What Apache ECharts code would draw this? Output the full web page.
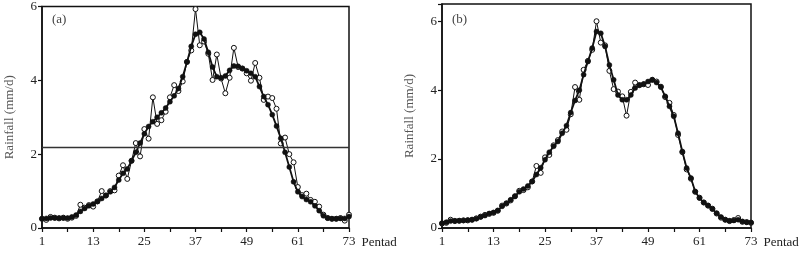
<!DOCTYPE html>
<html>
<head>
<meta charset="utf-8">
<script src="https://cdn.jsdelivr.net/npm/echarts@6/dist/echarts.min.js"></script>
<style>
  html, body { margin: 0; padding: 0; background: #fff; }
  #chart { width: 802px; height: 258px; }
</style>
</head>
<body>
<div id="chart"></div>
<script>
// pentad 1..73
var pentads = [];
for (var i = 1; i <= 73; i++) pentads.push(i);

var xTicks = [1, 13, 25, 37, 49, 61, 73];
var yTicksA = [0, 2, 4, 6];
var yTicksB = [0, 2, 4, 6];
var thresholdA = 2.18;

// (a) raw pentad values (open circles)
var rawA = [
  0.25, 0.22, 0.30, 0.28, 0.26, 0.28, 0.25, 0.28, 0.33, 0.63,
  0.55, 0.62, 0.58, 0.72, 1.00, 0.88, 1.00, 1.02, 1.42, 1.70,
  1.33, 1.82, 2.30, 1.94, 2.68, 2.42, 3.54, 2.82, 2.92, 3.15,
  3.54, 3.87, 3.71, 3.97, 4.50, 4.81, 5.93, 4.95, 5.05, 4.72,
  4.01, 4.70, 4.05, 3.65, 4.07, 4.88, 4.36, 4.32, 4.19, 3.99,
  4.47, 4.07, 3.47, 3.56, 3.52, 3.23, 2.29, 2.45, 2.00, 1.78,
  1.11, 0.89, 0.93, 0.76, 0.71, 0.58, 0.36, 0.27, 0.25, 0.25,
  0.27, 0.20, 0.36
];
// (a) smoothed values (filled circles)
var smoothA = [
  0.25, 0.26, 0.27, 0.27, 0.27, 0.27, 0.27, 0.30, 0.35, 0.45,
  0.53, 0.60, 0.65, 0.72, 0.80, 0.88, 0.98, 1.10, 1.30, 1.48,
  1.60, 1.82, 2.05, 2.30, 2.55, 2.75, 2.88, 3.00, 3.12, 3.25,
  3.42, 3.58, 3.78, 4.10, 4.50, 4.92, 5.25, 5.30, 5.12, 4.76,
  4.36, 4.10, 4.07, 4.12, 4.27, 4.39, 4.38, 4.32, 4.26, 4.19,
  4.10, 3.83, 3.56, 3.34, 3.07, 2.76, 2.43, 2.05, 1.65, 1.25,
  0.98, 0.85, 0.77, 0.71, 0.60, 0.47, 0.33, 0.27, 0.25, 0.25,
  0.26, 0.26, 0.31
];
// (b) raw pentad values (open circles)
var rawB = [
  0.13, 0.15, 0.24, 0.20, 0.21, 0.22, 0.22, 0.24, 0.28, 0.33,
  0.38, 0.41, 0.44, 0.50, 0.65, 0.71, 0.80, 0.92, 1.08, 1.10,
  1.18, 1.35, 1.80, 1.60, 2.05, 2.12, 2.40, 2.55, 2.80, 2.85,
  3.30, 4.09, 3.72, 4.59, 4.85, 5.17, 6.00, 5.38, 5.30, 4.56,
  4.03, 3.96, 3.82, 3.26, 3.95, 4.22, 4.15, 4.17, 4.15, 4.30,
  4.25, 4.10, 3.80, 3.63, 3.28, 2.70, 2.20, 1.70, 1.43, 1.05,
  0.88, 0.74, 0.65, 0.56, 0.42, 0.30, 0.24, 0.20, 0.23, 0.29,
  0.18, 0.17, 0.15
];
// (b) smoothed values (filled circles)
var smoothB = [
  0.14, 0.17, 0.20, 0.21, 0.21, 0.22, 0.23, 0.24, 0.27, 0.32,
  0.36, 0.42, 0.45, 0.51, 0.63, 0.72, 0.82, 0.92, 1.05, 1.13,
  1.22, 1.35, 1.55, 1.75, 1.98, 2.20, 2.37, 2.51, 2.75, 2.97,
  3.35, 3.70, 4.00, 4.45, 4.83, 5.22, 5.70, 5.65, 5.27, 4.73,
  4.30, 3.86, 3.72, 3.72, 3.86, 4.06, 4.14, 4.18, 4.25, 4.30,
  4.22, 4.09, 3.82, 3.53, 3.24, 2.75, 2.22, 1.74, 1.45, 1.06,
  0.87, 0.74, 0.65, 0.55, 0.43, 0.32, 0.24, 0.21, 0.22, 0.24,
  0.19, 0.17, 0.16
];

var font = 'Liberation Serif';
var ink = '#222';

// x positions are pentad-1 so ticks every 6 start at 0
function pairs(vals) {
  return vals.map(function (v, i) { return [pentads[i] - 1, v]; });
}

function xAxisFor(gi) {
  return {
    type: 'value', gridIndex: gi, min: 0, max: 72, interval: 6,
    name: 'Pentad', nameLocation: 'end', nameGap: 10,
    nameTextStyle: { fontFamily: font, fontSize: 13, color: ink, verticalAlign: 'top', padding: [8, 0, 0, 0] },
    axisLine: { lineStyle: { color: '#111', width: 1.5 } },
    axisTick: { inside: false, length: 4, lineStyle: { color: '#111', width: 1.2 } },
    axisLabel: {
      fontFamily: font, fontSize: 13, color: ink, margin: 7,
      formatter: function (v) { return xTicks.indexOf(v + 1) >= 0 ? String(v + 1) : ''; }
    },
    splitLine: { show: false }
  };
}

function yAxisFor(gi, max, ticks) {
  return {
    type: 'value', gridIndex: gi, min: 0, max: max, interval: 2,
    name: 'Rainfall (mm/d)', nameLocation: 'middle', nameGap: 26,
    nameTextStyle: { fontFamily: font, fontSize: 13, color: '#555' },
    axisLine: { show: true, lineStyle: { color: '#111', width: 1.5 } },
    axisTick: { length: 4, lineStyle: { color: '#111', width: 1.2 } },
    axisLabel: {
      fontFamily: font, fontSize: 13, color: ink, margin: 5,
      formatter: function (v) { return ticks.indexOf(v) >= 0 ? String(v) : ''; }
    },
    splitLine: { show: false }
  };
}

function rawSeries(gi, vals) {
  return {
    type: 'line', xAxisIndex: gi, yAxisIndex: gi, data: pairs(vals),
    symbol: 'circle', symbolSize: 5, showAllSymbol: true,
    lineStyle: { color: '#111', width: 1 },
    itemStyle: { color: '#fff', borderColor: '#111', borderWidth: 1 },
    animation: false, z: 3
  };
}

function smoothSeries(gi, vals) {
  return {
    type: 'line', xAxisIndex: gi, yAxisIndex: gi, data: pairs(vals),
    symbol: 'circle', symbolSize: 5, showAllSymbol: true,
    lineStyle: { color: '#111', width: 1.8 },
    itemStyle: { color: '#111', borderColor: '#111', borderWidth: 0.5 },
    animation: false, z: 4
  };
}

var chart = echarts.init(document.getElementById('chart'), null, { renderer: 'canvas' });

var rawASeries = rawSeries(0, rawA);
rawASeries.markLine = {
  silent: true, symbol: 'none', label: { show: false },
  lineStyle: { color: '#333', width: 1.3, type: 'solid' },
  data: [{ yAxis: thresholdA }]
};

chart.setOption({
  backgroundColor: '#fff',
  animation: false,
  title: [
    { text: '(a)', left: 47, top: 8, textStyle: { fontFamily: font, fontSize: 13, fontWeight: 'normal', color: '#444' } },
    { text: '(b)', left: 447, top: 8, textStyle: { fontFamily: font, fontSize: 13, fontWeight: 'normal', color: '#444' } }
  ],
  grid: [
    { left: 42, top: 4, width: 307, height: 224, show: true, borderColor: '#111', borderWidth: 1.5 },
    { left: 442, top: 4, width: 309, height: 224, show: true, borderColor: '#111', borderWidth: 1.5 }
  ],
  xAxis: [xAxisFor(0), xAxisFor(1)],
  yAxis: [yAxisFor(0, 6, yTicksA), yAxisFor(1, 6.5, yTicksB)],
  series: [
    rawASeries,
    smoothSeries(0, smoothA),
    rawSeries(1, rawB),
    smoothSeries(1, smoothB)
  ]
});
</script>
</body>
</html>
